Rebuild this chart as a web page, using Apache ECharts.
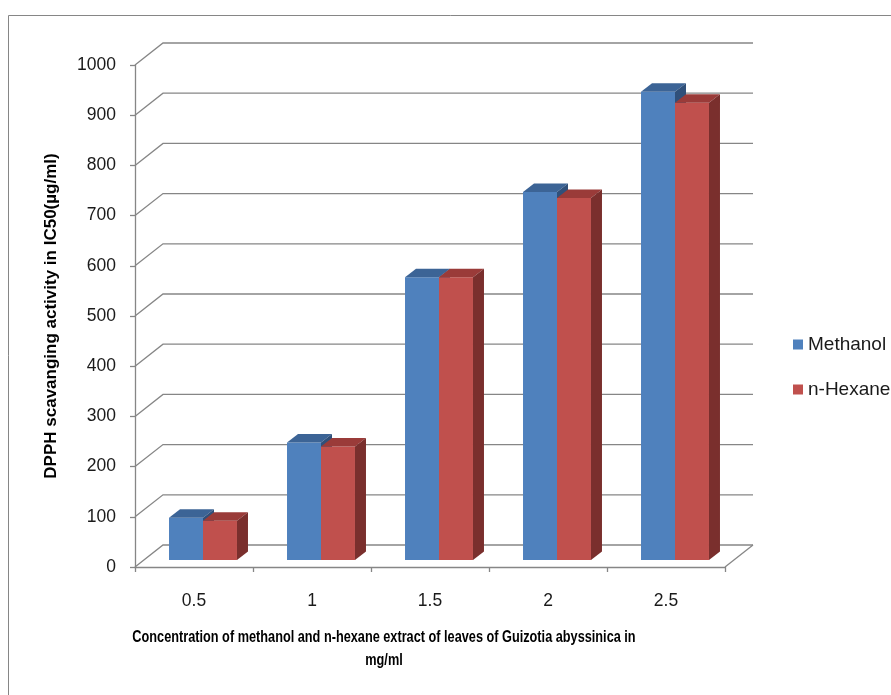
<!DOCTYPE html>
<html>
<head>
<meta charset="utf-8">
<script src="https://cdn.jsdelivr.net/npm/echarts@6/dist/echarts.min.js"></script>
<style>
  html, body { margin: 0; padding: 0; background: #ffffff; }
  #chart { width: 891px; height: 695px; }
</style>
</head>
<body>
<div id="chart"></div>
<script>
// Concentrations (mg/ml) on the category axis
const categories = ['0.5', '1', '1.5', '2', '2.5'];
// DPPH scavenging activity, IC50 (µg/ml)
const methanol = [84, 234, 563, 733, 933];
const nHexane = [78, 226, 563, 721, 911];
// Value-axis ticks
const yTicks = [0, 100, 200, 300, 400, 500, 600, 700, 800, 900, 1000];

const seriesNames = ['Methanol', 'n-Hexane'];
const FONT = '"Liberation Sans", Arial, sans-serif';

// Perspective of the back wall and of the bars
const WALL_DX = 28, WALL_DY = -22;   // offset of the back wall
const BAR_DX = 9, BAR_DY = -7;       // front face of bars sits slightly behind the front plane
const SIDE_DX = 11, SIDE_DY = -8.5;  // depth of each bar
const BAR_FRAC = 0.288;              // bar width as fraction of a category band

const palette = {
  'Methanol': { front: '#4F81BD', top: '#3C6496', side: '#30507A' },
  'n-Hexane': { front: '#C0504D', top: '#9A3B39', side: '#7A2F2D' }
};

function wallItem(params, api) {
  const cs = params.coordSys;
  const y = api.coord([0, api.value(1)])[1];
  const left = cs.x, right = cs.x + cs.width;
  const lineStyle = { stroke: '#868686', lineWidth: 1.3, fill: null };
  const children = [{
    type: 'polyline',
    shape: { points: [[left, y], [left + WALL_DX, y + WALL_DY], [right + WALL_DX, y + WALL_DY]] },
    style: lineStyle
  }];
  if (api.value(1) === 0) {
    children.push({
      type: 'line',
      shape: { x1: right, y1: y, x2: right + WALL_DX, y2: y + WALL_DY },
      style: lineStyle
    });
  }
  return { type: 'group', children: children };
}

function barRenderer(name, slot) {
  const c = palette[name];
  return function (params, api) {
    const band = api.size([1, 0])[0];
    const bw = band * BAR_FRAC;
    const base = api.coord([api.value(0), 0]);
    const top = api.coord([api.value(0), api.value(1)]);
    const x0 = base[0] + BAR_DX + (slot === 0 ? -bw : 0);
    const yb = base[1] + BAR_DY;
    const yt = top[1] + BAR_DY;
    return {
      type: 'group',
      children: [
        {
          type: 'rect',
          shape: { x: x0, y: yt, width: bw, height: yb - yt },
          style: { fill: c.front }
        },
        {
          type: 'polygon',
          shape: { points: [[x0, yt], [x0 + bw, yt], [x0 + bw + SIDE_DX, yt + SIDE_DY], [x0 + SIDE_DX, yt + SIDE_DY]] },
          style: { fill: c.top }
        },
        {
          type: 'polygon',
          shape: { points: [[x0 + bw, yt], [x0 + bw + SIDE_DX, yt + SIDE_DY], [x0 + bw + SIDE_DX, yb + SIDE_DY], [x0 + bw, yb]] },
          style: { fill: c.side }
        }
      ]
    };
  };
}

const chart = echarts.init(document.getElementById('chart'), null, { renderer: 'canvas' });

chart.setOption({
  backgroundColor: '#ffffff',
  animation: false,
  grid: { left: 135, top: 65, width: 590, height: 502, containLabel: false },
  legend: {
    orient: 'vertical',
    left: 788,
    top: 330,
    itemWidth: 10,
    itemHeight: 10,
    itemGap: 26,
    icon: 'rect',
    data: seriesNames,
    textStyle: { fontFamily: FONT, fontSize: 19, color: '#1a1a1a' }
  },
  xAxis: {
    type: 'category',
    data: categories,
    boundaryGap: true,
    axisLine: { show: true, lineStyle: { color: '#868686', width: 1.3 } },
    axisTick: { show: true, interval: 0, length: 5, lineStyle: { color: '#868686', width: 1.3 } },
    axisLabel: { margin: 25, fontFamily: FONT, fontSize: 17.5, color: '#1a1a1a' },
    splitLine: { show: false }
  },
  yAxis: {
    type: 'value',
    min: 0,
    max: 1000,
    interval: 100,
    axisLine: { show: true, lineStyle: { color: '#868686', width: 1.3 } },
    axisTick: { show: true, length: 5, lineStyle: { color: '#868686', width: 1.3 } },
    axisLabel: { margin: 19, fontFamily: FONT, fontSize: 17.5, color: '#1a1a1a', formatter: v => String(v) },
    splitLine: { show: false },
    name: 'DPPH scavanging activity in IC50(µg/ml)',
    nameLocation: 'middle',
    nameGap: 75,
    nameTextStyle: { fontFamily: FONT, fontSize: 17, fontWeight: 'bold', color: '#000000' }
  },
  graphic: [
    {
      type: 'rect',
      silent: true,
      shape: { x: 8.5, y: 15.5, width: 1000, height: 1000 },
      style: { fill: null, stroke: '#868686', lineWidth: 1 },
      z: -10
    },
    {
      type: 'text',
      silent: true,
      x: 384,
      y: 626,
      scaleX: 0.795,
      style: {
        text: 'Concentration of methanol and n-hexane extract of leaves of Guizotia abyssinica in\nmg/ml',
        x: 0,
        y: 0,
        align: 'center',
        verticalAlign: 'top',
        lineHeight: 23,
        font: 'bold 16px "Liberation Sans", Arial, sans-serif',
        fill: '#000000'
      }
    }
  ],
  series: [
    {
      name: 'wall',
      type: 'custom',
      z: 1,
      silent: true,
      renderItem: wallItem,
      encode: { x: 0, y: 1 },
      data: yTicks.map(v => [0, v])
    },
    {
      name: seriesNames[0],
      type: 'custom',
      z: 3,
      itemStyle: { color: palette['Methanol'].front },
      renderItem: barRenderer('Methanol', 0),
      encode: { x: 0, y: 1 },
      data: methanol.map((v, i) => [i, v])
    },
    {
      name: seriesNames[1],
      type: 'custom',
      z: 4,
      itemStyle: { color: palette['n-Hexane'].front },
      renderItem: barRenderer('n-Hexane', 1),
      encode: { x: 0, y: 1 },
      data: nHexane.map((v, i) => [i, v])
    }
  ]
});
</script>
</body>
</html>
